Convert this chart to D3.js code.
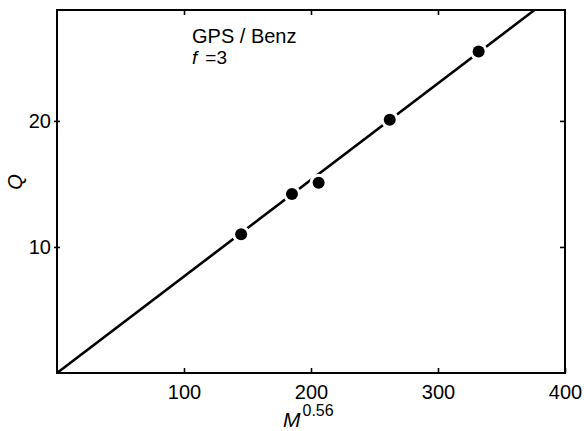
<!DOCTYPE html>
<html>
<head>
<meta charset="utf-8">
<script src="https://cdn.jsdelivr.net/npm/d3@7"></script>
<style>
  html, body { margin: 0; padding: 0; background: #fff; }
  svg { display: block; }
  text { fill: #000; }
</style>
</head>
<body>
<div id="chart"></div>
<script>
// Measured points: Q against M^0.56 for the GPS / Benz system (f = 3)
const mPower = [145, 185, 206, 262, 332];
const qValues = [11.0, 14.2, 15.1, 20.1, 25.5];
// Straight line through the origin fitted to the points
const fitSlope = 0.0766;
const xTicks = [100, 200, 300, 400];
const yTicks = [10, 20];
const xDomain = [0, 400];
const yDomain = [0, 28.8];

const W = 584, H = 431;
const margin = { left: 57, right: 19, top: 10, bottom: 58 };
const iw = W - margin.left - margin.right;
const ih = H - margin.top - margin.bottom;

const svg = d3.select("#chart").append("svg")
  .attr("width", W).attr("height", H);

const g = svg.append("g")
  .attr("transform", `translate(${margin.left},${margin.top})`);

const x = d3.scaleLinear().domain(xDomain).range([0, iw]);
const y = d3.scaleLinear().domain(yDomain).range([ih, 0]);

const tickFont = "'Liberation Sans Narrow', 'Liberation Sans', Arial, sans-serif";

// Frame
g.append("rect")
  .attr("x", 0).attr("y", 0)
  .attr("width", iw).attr("height", ih)
  .attr("fill", "none").attr("stroke", "#000").attr("stroke-width", 2);

// Bottom axis: inward ticks with labels
const xAxis = g.append("g")
  .attr("transform", `translate(0,${ih})`)
  .call(d3.axisBottom(x).tickValues(xTicks).tickSizeInner(-5).tickSizeOuter(0).tickPadding(12));
// Left axis: ticks crossing the frame
const yAxis = g.append("g")
  .call(d3.axisLeft(y).tickValues(yTicks).tickSizeInner(3).tickSizeOuter(0).tickPadding(3));
// Top and right: inward ticks only
const xTop = g.append("g")
  .call(d3.axisTop(x).tickValues([100, 200, 300]).tickSizeInner(-5).tickSizeOuter(0).tickFormat(""));
const yRight = g.append("g")
  .attr("transform", `translate(${iw},0)`)
  .call(d3.axisRight(y).tickValues(yTicks).tickSizeInner(-5).tickSizeOuter(0).tickFormat(""));

[xAxis, yAxis, xTop, yRight].forEach(a => {
  a.select(".domain").remove();
  a.selectAll(".tick line").attr("stroke", "#000").attr("stroke-width", 1.6);
  a.selectAll(".tick text")
    .attr("font-family", tickFont)
    .attr("font-size", 20)
    .attr("fill", "#000");
});
// left ticks extend a little inside the frame too
yAxis.selectAll(".tick line").attr("x1", 3);

// Fitted line through the origin, up to the top of the frame
const mEnd = Math.min(xDomain[1], yDomain[1] / fitSlope);
const fitLine = [[0, 0], [mEnd, fitSlope * mEnd]];
g.append("path")
  .datum(fitLine)
  .attr("d", d3.line().x(d => x(d[0])).y(d => y(d[1])))
  .attr("fill", "none").attr("stroke", "#000").attr("stroke-width", 2.6);

// Points with a white ring so the line stops short of each dot
const pts = mPower.map((m, i) => ({ m, q: qValues[i] }));
g.selectAll("circle.halo").data(pts).enter().append("circle")
  .attr("class", "halo")
  .attr("cx", d => x(d.m)).attr("cy", d => y(d.q))
  .attr("r", 9).attr("fill", "#fff");
g.selectAll("circle.dot").data(pts).enter().append("circle")
  .attr("class", "dot")
  .attr("cx", d => x(d.m)).attr("cy", d => y(d.q))
  .attr("r", 6).attr("fill", "#000");

// Annotation
const note = svg.append("g").attr("font-family", "'Liberation Sans', Arial, sans-serif");
note.append("text")
  .attr("x", 192).attr("y", 43)
  .attr("font-size", 20)
  .text("GPS / Benz");
const fLine = note.append("text")
  .attr("x", 192).attr("y", 64)
  .attr("font-size", 19);
fLine.append("tspan").attr("font-style", "italic").text("f");
fLine.append("tspan").attr("dx", 8).text("=3");

// Axis titles
const xt = svg.append("text")
  .attr("x", 283).attr("y", 427)
  .attr("font-family", "'Liberation Sans', Arial, sans-serif");
xt.append("tspan").attr("font-style", "italic").attr("font-size", 21).text("M");
xt.append("tspan").attr("font-size", 16).attr("dy", -11).attr("dx", 2).text("0.56");

svg.append("text")
  .attr("transform", "translate(22,182) rotate(-90)")
  .attr("text-anchor", "middle")
  .attr("font-family", "'Liberation Sans', Arial, sans-serif")
  .attr("font-style", "italic")
  .attr("font-size", 20)
  .text("Q");
</script>
</body>
</html>
